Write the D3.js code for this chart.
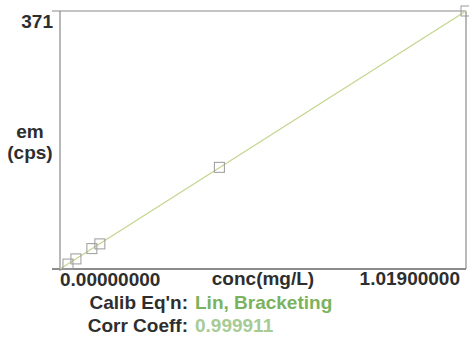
<!DOCTYPE html>
<html>
<head>
<meta charset="utf-8">
<script src="https://cdn.jsdelivr.net/npm/d3@7"></script>
<style>
  html, body { margin: 0; padding: 0; background: #fff; }
  svg { display: block; }
  text { font-family: "Liberation Sans", Arial, sans-serif; font-weight: bold; }
</style>
</head>
<body>
<svg id="chart" width="469" height="340"></svg>
<script>
// Calibration standards: concentration (mg/L) and emission (cps)
const conc = [0.02, 0.04, 0.08, 0.10, 0.40, 1.019];
const emission = [7.1, 14.5, 29.3, 36.1, 146.2, 371];
// Axis end labels
const xTickLabels = ["0.00000000", "1.01900000"];
const yTickLabels = ["371"];
const xTitle = "conc(mg/L)";
const yTitle = ["em", "(cps)"];
// Fit summary
const infoLabels = ["Calib Eq'n:", "Corr Coeff:"];
const infoValues = ["Lin, Bracketing", "0.999911"];
// Linear fit through the standards
const fitLine = [[0, 0], [1.019, 371]];

const svg = d3.select("#chart");
const plotLeft = 60, plotRight = 466, plotTop = 11, plotBottom = 269;

const x = d3.scaleLinear().domain([0, 1.019]).range([plotLeft, plotRight]);
const y = d3.scaleLinear().domain([0, 371]).range([plotBottom, plotTop]);

const frameColor = "#8a8a8a";
const textColor = "#2e2e2e";
const fs = 19;

// Frame: top, bottom, left and right edges
svg.append("line").attr("x1", 52).attr("x2", plotRight).attr("y1", plotTop).attr("y2", plotTop)
  .attr("stroke", frameColor).attr("stroke-width", 1.2);
svg.append("line").attr("x1", 52).attr("x2", plotRight).attr("y1", plotBottom).attr("y2", plotBottom)
  .attr("stroke", "#666").attr("stroke-width", 1.4);
svg.append("line").attr("x1", plotLeft).attr("x2", plotLeft).attr("y1", plotTop).attr("y2", plotBottom + 2)
  .attr("stroke", frameColor).attr("stroke-width", 1.2);
svg.append("line").attr("x1", plotRight).attr("x2", plotRight).attr("y1", plotTop).attr("y2", plotBottom)
  .attr("stroke", frameColor).attr("stroke-width", 1.2);

// Fit line
svg.append("path")
  .datum(fitLine)
  .attr("fill", "none")
  .attr("stroke", "#c4d68e")
  .attr("stroke-width", 1.3)
  .attr("d", d3.line().x(d => x(d[0])).y(d => y(d[1])));

// Standard points as open squares
const sq = 10;
svg.selectAll("rect.pt")
  .data(conc.map((c, i) => [c, emission[i]]))
  .join("rect")
  .attr("class", "pt")
  .attr("x", d => x(d[0]) - sq / 2)
  .attr("y", d => y(d[1]) - sq / 2)
  .attr("width", sq).attr("height", sq)
  .attr("fill", "none")
  .attr("stroke", "#9a9a9a")
  .attr("stroke-width", 1);

// Y max label
svg.append("text")
  .attr("x", 53).attr("y", 28)
  .attr("text-anchor", "end")
  .attr("font-size", fs)
  .attr("fill", textColor)
  .text(yTickLabels[0]);

// Y title
svg.selectAll("text.ytitle")
  .data(yTitle)
  .join("text")
  .attr("class", "ytitle")
  .attr("x", 30)
  .attr("y", (d, i) => 138 + i * 21)
  .attr("text-anchor", "middle")
  .attr("font-size", fs)
  .attr("fill", textColor)
  .text(d => d);

// X end labels and title
svg.append("text")
  .attr("x", x(0)).attr("y", 286)
  .attr("font-size", fs).attr("fill", textColor)
  .text(xTickLabels[0]);
svg.append("text")
  .attr("x", 460).attr("y", 285)
  .attr("text-anchor", "end")
  .attr("font-size", fs).attr("fill", textColor)
  .text(xTickLabels[1]);
svg.append("text")
  .attr("x", 263).attr("y", 285)
  .attr("text-anchor", "middle")
  .attr("font-size", fs).attr("fill", textColor)
  .text(xTitle);

// Fit summary rows
const valueColors = ["#7bb25d", "#a6cb94"];
infoLabels.forEach((lab, i) => {
  const yy = 309 + i * 23;
  svg.append("text")
    .attr("x", 188).attr("y", yy)
    .attr("text-anchor", "end")
    .attr("font-size", fs).attr("fill", textColor)
    .text(lab);
  svg.append("text")
    .attr("x", 195).attr("y", yy)
    .attr("font-size", fs).attr("fill", valueColors[i])
    .text(infoValues[i]);
});
</script>
</body>
</html>
